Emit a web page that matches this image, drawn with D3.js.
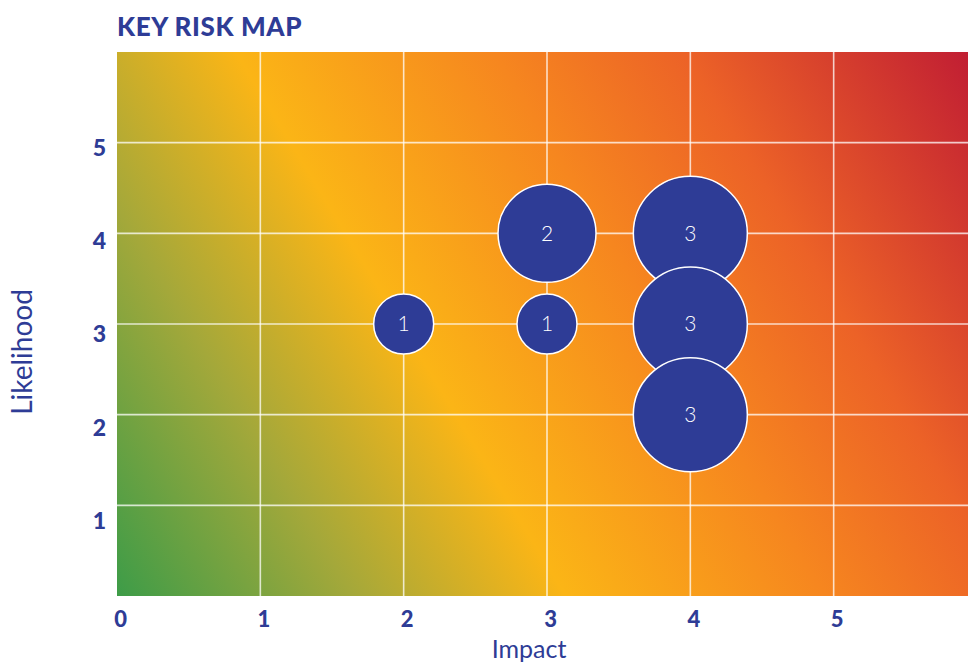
<!DOCTYPE html>
<html><head><meta charset="utf-8">
<script src="https://cdn.jsdelivr.net/npm/d3@7"></script>
<style>html,body{margin:0;padding:0;background:#fff;overflow:hidden}</style>
</head><body>
<svg id="c" width="968" height="664"></svg>
<script>
const impact = [2, 3, 3, 4, 4, 4];
const likelihood = [3, 3, 4, 4, 3, 2];
const counts = [1, 1, 2, 3, 3, 3];
const xTicks = [0, 1, 2, 3, 4, 5];
const yTicks = [1, 2, 3, 4, 5];
const title = "KEY RISK MAP";
const xTitle = "Impact";
const yTitle = "Likelihood";

const navy = "#2e3c96";
const svg = d3.select("#c");
const x = d3.scaleLinear().domain([0, 6]).range([117, 977]);
const y = d3.scaleLinear().domain([0, 6]).range([596, 52]);
const yLab = d3.scaleLinear().domain([0, 6]).range([614, 55]);
const r = d3.scaleLinear().domain([1, 2, 3]).range([30, 49, 57]);

const defs = svg.append("defs");
const g = defs.append("linearGradient").attr("id", "heat")
  .attr("gradientUnits", "userSpaceOnUse")
  .attr("x1", 117).attr("y1", 596).attr("x2", 980).attr("y2", 72);
[[0, "#3d9c48"], [0.2, "#a4a83a"], [0.38, "#fbb516"], [0.6, "#f6861f"], [0.76, "#ec6227"], [1, "#c11e33"]]
  .forEach(([o, c]) => g.append("stop").attr("offset", o).attr("stop-color", c));

svg.append("rect").attr("x", x(0)).attr("y", y(6))
  .attr("width", x(6) - x(0)).attr("height", y(0) - y(6)).attr("fill", "url(#heat)");

const grid = svg.append("g").attr("stroke", "#fff").attr("stroke-opacity", 0.75).attr("stroke-width", 1.6);
grid.selectAll("line.v").data(xTicks.filter(d => d > 0)).join("line")
  .attr("x1", d => x(d)).attr("x2", d => x(d)).attr("y1", y(6)).attr("y2", y(0));
grid.selectAll("line.h").data(yTicks).join("line")
  .attr("y1", d => y(d)).attr("y2", d => y(d)).attr("x1", x(0)).attr("x2", x(6));

const pts = impact.map((d, i) => ({ x: d, y: likelihood[i], v: counts[i] }));
const b = svg.append("g").selectAll("g").data(pts).join("g")
  .attr("transform", d => `translate(${x(d.x)},${y(d.y)})`);
b.append("circle").attr("r", d => r(d.v)).attr("fill", navy)
  .attr("stroke", "#fff").attr("stroke-width", 1.5);
b.append("text").text(d => d.v).attr("text-anchor", "middle").attr("dy", "0.35em")
  .attr("fill", "#fff").attr("font-family", "Lato, sans-serif").attr("font-weight", 300)
  .attr("font-size", 21);

const fontB = "Lato, 'Open Sans', sans-serif";
const fmt = d3.format("d");
const xa = svg.append("g").attr("transform", `translate(0,${y(0)})`)
  .call(d3.axisBottom(x).tickValues(xTicks).tickFormat(fmt).tickSize(0).tickPadding(15));
xa.select(".domain").remove();
xa.selectAll("text").attr("font-family", fontB).attr("font-weight", 900)
  .attr("font-size", 22).attr("fill", navy).attr("dx", 3);

const ya = svg.append("g").attr("transform", `translate(${x(0)},0)`)
  .call(d3.axisLeft(yLab).tickValues(yTicks).tickFormat(fmt).tickSize(0).tickPadding(11));
ya.select(".domain").remove();
ya.selectAll("text").attr("font-family", fontB).attr("font-weight", 900)
  .attr("font-size", 23).attr("fill", navy);

svg.append("text").text(title).attr("x", 117).attr("y", 36)
  .attr("font-family", fontB).attr("font-weight", 900).attr("font-size", 26)
  .attr("letter-spacing", 0.6).attr("fill", navy);
svg.append("text").text(xTitle).attr("x", 529).attr("y", 658).attr("text-anchor", "middle")
  .attr("font-family", fontB).attr("font-weight", 400).attr("font-size", 25).attr("fill", navy);
svg.append("text").text(yTitle).attr("transform", "translate(32,352) rotate(-90)").attr("text-anchor", "middle")
  .attr("font-family", fontB).attr("font-weight", 400).attr("font-size", 28).attr("fill", navy);
</script>
</body></html>
